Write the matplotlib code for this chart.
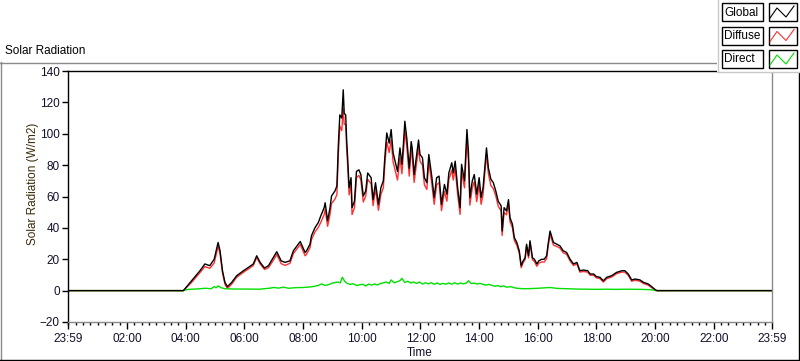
import numpy as np
import matplotlib.pyplot as plt
import matplotlib.transforms as mtransforms
from matplotlib.lines import Line2D
from matplotlib.patches import Rectangle

plt.rcParams['font.family'] = ['Liberation Sans', 'DejaVu Sans']
plt.rcParams['font.size'] = 8

# Global / diffuse readings (W/m2), local time
times = ["00:00", "03:55", "04:12", "04:29", "04:39", "04:49", "04:58", "05:03", "05:06", "05:10",
         "05:15", "05:20", "05:25", "05:34", "05:44", "05:58", "06:08", "06:18", "06:25", "06:32",
         "06:41", "06:49", "06:59", "07:06", "07:15", "07:23", "07:33", "07:40", "07:54", "08:04",
         "08:07", "08:14", "08:17", "08:24", "08:31", "08:36", "08:43", "08:45", "08:50", "08:55",
         "08:58", "09:05", "09:09", "09:12", "09:15", "09:19", "09:22", "09:24", "09:27", "09:29",
         "09:31", "09:34", "09:38", "09:40", "09:45", "09:49", "09:54", "09:58", "10:03", "10:08",
         "10:12", "10:19", "10:23", "10:28", "10:34", "10:39", "10:44", "10:47", "10:51", "10:56",
         "11:00", "11:04", "11:08", "11:13", "11:18", "11:22", "11:25", "11:28", "11:32", "11:37",
         "11:41", "11:43", "11:47", "11:56", "11:59", "12:04", "12:08", "12:13", "12:17", "12:23",
         "12:28", "12:33", "12:38", "12:43", "12:49", "12:54", "12:58", "13:04", "13:07", "13:11",
         "13:16", "13:21", "13:24", "13:30", "13:35", "13:38", "13:41", "13:46", "13:50", "13:55",
         "14:00", "14:04", "14:08", "14:12", "14:15", "14:19", "14:24", "14:29", "14:34", "14:39",
         "14:45", "14:47", "14:51", "14:56", "15:00", "15:03", "15:08", "15:12", "15:17", "15:22",
         "15:26", "15:30", "15:34", "15:37", "15:41", "15:44", "15:49", "15:53", "15:58", "16:02",
         "16:08", "16:13", "16:18", "16:21", "16:25", "16:32", "16:39", "16:45", "16:52", "16:59",
         "17:06", "17:13", "17:20", "17:26", "17:33", "17:42", "17:47", "17:54", "18:00", "18:07",
         "18:14", "18:21", "18:31", "18:41", "18:52", "18:58", "19:05", "19:12", "19:19", "19:29",
         "19:36", "19:46", "19:53", "20:01", "20:04", "23:59"]

global_wm2 = [0, 0, 6.3, 12.7, 17, 15.9, 20, 26.5, 30.7, 25.4,
              12.7, 5.3, 2.5, 5.3, 9.5, 12.7, 14.8, 17, 22.2, 18,
              14.4, 15.9, 21.1, 24.8, 19, 18, 19, 25.4, 31.3, 24.3,
              25.4, 29.6, 35, 40, 43.4, 47.6, 52.9, 56, 44.5, 52.9,
              60.3, 63.5, 66.7, 93, 112, 110, 128, 113, 112, 96,
              84.7, 65.6, 72, 52.9, 57, 76, 77, 74, 60.3, 63.5,
              75, 72, 58, 68.8, 55, 65.6, 70, 84.7, 100.5, 94,
              102.7, 87.8, 82.5, 76, 91, 80.5, 93, 108, 97, 78,
              95, 91, 74, 96, 86.8, 84.7, 72, 68.8, 86.8, 73,
              59.3, 72, 73, 55, 67.7, 61.4, 75, 81.5, 75, 82.5,
              65.6, 52.9, 80.5, 70, 102.7, 89, 59.3, 70, 74, 61.4,
              72, 59.3, 65.6, 80.5, 91, 78, 71, 68.8, 63.5, 57,
              54, 38, 52.9, 50.8, 58, 46.5, 42.4, 33.8, 30.7, 25.4,
              15.9, 19, 21, 29.6, 22.2, 31.8, 21, 20, 17, 19,
              20, 20, 22.2, 29.6, 38, 30.7, 29.6, 28.6, 25.4, 24.3,
              20, 17, 18, 12.7, 13.1, 12.7, 10.6, 10.6, 8.9, 8.5,
              6.3, 8.5, 9.5, 11.6, 12.7, 12.7, 10.6, 6.8, 7.4, 6.8,
              5.3, 4.2, 2.5, 0.4, 0, 0]

diffuse_wm2 = [0, 0, 5.3, 11.5, 15.3, 14.2, 17.6, 24.3, 28.2, 23.5,
               11.3, 4.1, 1.4, 4.2, 8.5, 11.7, 13.8, 16.0, 21.2, 17.0,
               13.5, 14.6, 19.3, 23.0, 17.2, 16.1, 17.4, 23.6, 29.4, 22.2,
               23.2, 27.3, 32.5, 37.3, 40.3, 43.5, 48.5, 51.8, 41.0, 48.6,
               55.5, 58.3, 61.2, 87, 105, 102, 116, 106, 106, 90,
               80, 61, 67.5, 48.5, 53, 72, 73.5, 70.5, 56.5, 60.3,
               71, 68, 54.2, 65.0, 51.2, 61.3, 65.5, 79.8, 95, 88,
               96, 82, 77, 70.5, 84.5, 74.5, 87.5, 102, 92, 73,
               90, 86, 69, 91, 82.5, 80, 67.5, 64.5, 82, 68.5,
               55, 67.5, 68.8, 51, 63.2, 57, 70.8, 76.8, 70.5, 77.8,
               61.2, 48.6, 75.8, 65.5, 96.5, 83, 54.5, 65.5, 69.4, 56.7,
               67.5, 55, 61.3, 76.5, 87, 74.3, 67, 65, 60.5, 53.8,
               50.8, 35.2, 49.8, 48.3, 55.6, 44, 40.1, 31.8, 29, 23.9,
               14.6, 17.8, 19.8, 28.3, 20.9, 30.5, 19.7, 18.6, 15.5, 17.5,
               18.3, 18.2, 20.3, 27.7, 36, 29, 28.1, 27.2, 24.1, 23.1,
               18.9, 16, 17, 11.8, 12.2, 11.8, 9.8, 9.8, 8.1, 7.7,
               5.5, 7.6, 8.7, 10.8, 11.8, 11.8, 9.7, 6.0, 6.6, 6.0,
               4.5, 3.5, 1.9, 0, 0, 0]

# Direct component (W/m2)
direct_times = ["00:00", "03:55", "04:05", "04:20", "04:40", "04:52", "04:58", "05:02", "05:06", "05:12",
                "05:20", "05:40", "06:00", "06:30", "06:50", "07:00", "07:10", "07:20", "07:30", "07:45",
                "08:00", "08:10", "08:20", "08:30", "08:38", "08:44", "08:50", "09:00", "09:10", "09:16",
                "09:20", "09:25", "09:30", "09:36", "09:42", "09:50", "09:56", "10:02", "10:08", "10:14",
                "10:20", "10:26", "10:32", "10:38", "10:44", "10:50", "10:56", "11:00", "11:06", "11:12",
                "11:18", "11:22", "11:28", "11:34", "11:40", "11:46", "11:52", "11:58", "12:04", "12:10",
                "12:16", "12:22", "12:28", "12:34", "12:40", "12:46", "12:52", "12:58", "13:04", "13:10",
                "13:16", "13:22", "13:28", "13:34", "13:38", "13:44", "13:50", "13:56", "14:02", "14:08",
                "14:14", "14:20", "14:26", "14:32", "14:38", "14:44", "14:50", "14:56", "15:05", "15:15",
                "15:30", "15:45", "16:00", "16:15", "16:25", "16:40", "17:00", "17:20", "17:40", "18:00",
                "18:20", "18:40", "19:00", "19:30", "19:50", "20:04", "23:59"]

direct_wm2 = [0, 0, 0.8, 1.0, 1.5, 1.2, 2.6, 1.8, 3.0, 1.9,
              1.2, 1.0, 1.0, 0.9, 1.5, 2.0, 1.6, 2.2, 1.5, 1.9,
              2.0, 2.2, 2.6, 3.2, 4.3, 3.4, 3.6, 4.8, 5.5, 5.0,
              8.5, 6.0, 4.6, 4.0, 4.4, 3.2, 3.8, 4.0, 3.0, 4.2,
              3.5, 4.3, 3.6, 4.5, 5.0, 5.5, 4.6, 6.8, 5.0, 5.6,
              6.3, 7.8, 5.2, 6.0, 4.8, 5.5, 4.6, 5.5, 4.2, 5.0,
              4.3, 5.1, 4.0, 4.9, 4.0, 4.6, 4.1, 4.9, 4.1, 5.0,
              4.2, 4.8, 4.3, 4.9, 6.3, 4.5, 4.8, 4.2, 4.6, 4.0,
              3.5, 4.0, 3.4, 2.8, 3.2, 2.5, 3.0, 2.2, 2.5, 1.6,
              1.2, 1.3, 1.5, 1.8, 2.0, 1.4, 1.2, 1.0, 0.9, 0.8,
              0.9, 0.8, 0.9, 0.8, 0.6, 0, 0]

tick_labels = ["23:59", "02:00", "04:00", "06:00", "08:00", "10:00", "12:00",
               "14:00", "16:00", "18:00", "20:00", "22:00", "23:59"]


def to_x(hhmm):
    # minutes after 23:59 of the previous day
    h, m = hhmm.split(':')
    return int(h) * 60 + int(m) + 1


x_gd = np.array([to_x(t) for t in times])
x_gd[-1] = 1440
x_dir = np.array([to_x(t) for t in direct_times])
x_dir[-1] = 1440

W, H = 800, 361
fig = plt.figure(figsize=(W / 100, H / 100), dpi=100)
fig.patch.set_facecolor('white')
pix = mtransforms.Affine2D().scale(1 / W, -1 / H).translate(0, 1) + fig.transFigure

ax = fig.add_axes([68 / W, 1 - 322 / H, 704 / W, 251 / H])
ax.plot(x_gd, diffuse_wm2, color='#ff3030', lw=1.0)
ax.plot(x_dir, direct_wm2, color='#00e000', lw=1.0)
ax.plot(x_gd, global_wm2, color='black', lw=1.0)

ax.set_xlim(0, 1440)
ax.set_ylim(-20, 140)
ax.set_yticks(np.arange(-20, 141, 20))
major_x = [0] + [to_x(t) for t in tick_labels[1:-1]] + [1440]
ax.set_xticks(major_x)
ax.set_xticklabels(tick_labels)
ax.set_xticks([v for v in range(1, 1440, 15) if v not in major_x], minor=True)

ax.tick_params(axis='x', which='major', length=5, width=1, pad=3, labelsize=8.5, labelcolor='#10102a')
ax.tick_params(axis='x', which='minor', length=2.5, width=1)
ax.tick_params(axis='y', which='major', length=4, width=1, pad=2, labelsize=8.5, labelcolor='#10102a')

for side in ['left', 'top']:
    ax.spines[side].set_color('black')
for side in ['right', 'bottom']:
    ax.spines[side].set_color('#8a8a8a')
for sp in ax.spines.values():
    sp.set_linewidth(1)

ax.set_ylabel('Solar Radiation (W/m2)', fontsize=8.5, color='#3a2c08')
ax.yaxis.set_label_coords(-0.041, 0.55)
ax.set_xlabel('Time', fontsize=8.5, color='#10102a', labelpad=1)

# outer frame
fig.add_artist(Line2D([0, 717], [62.5, 62.5], color='#8a8a8a', lw=1, transform=pix))
fig.add_artist(Line2D([0.5, 0.5], [62, 360], color='#8a8a8a', lw=1, transform=pix))
fig.add_artist(Line2D([0, 800], [360, 360], color='black', lw=1, transform=pix))
fig.add_artist(Line2D([798.5, 798.5], [72, 360], color='black', lw=1, transform=pix))
fig.text(5 / W, 1 - 51 / H, 'Solar Radiation', fontsize=8.5, va='center', ha='left')

# legend panel
fig.add_artist(Rectangle((717, 0), 83, 72, facecolor='white', edgecolor='none', transform=pix, zorder=5))
fig.add_artist(Line2D([717.5, 717.5], [0, 72], color='#c8c8c8', lw=1, transform=pix, zorder=6))
fig.add_artist(Line2D([717, 800], [72, 72], color='#c8c8c8', lw=1, transform=pix, zorder=6))
leg_names = ['Global', 'Diffuse', 'Direct']
leg_colors = ['black', '#ff3030', '#00e000']
for i, (name, col) in enumerate(zip(leg_names, leg_colors)):
    top = 3 + i * 23.5
    fig.add_artist(Rectangle((721.5, top), 41, 18, facecolor='white', edgecolor='black',
                             lw=1, transform=pix, zorder=6))
    fig.add_artist(Rectangle((768.5, top), 28, 18, facecolor='white', edgecolor='black',
                             lw=1, transform=pix, zorder=6))
    fig.text(724 / W, 1 - (top + 9.5) / H, name, fontsize=8.5, va='center', ha='left', zorder=7)
    fig.add_artist(Line2D([770, 777, 786, 794], [top + 15, top + 5, top + 14, top + 3],
                          color=col, lw=0.8, transform=pix, zorder=7))

fig.savefig('out.png', dpi=100)
